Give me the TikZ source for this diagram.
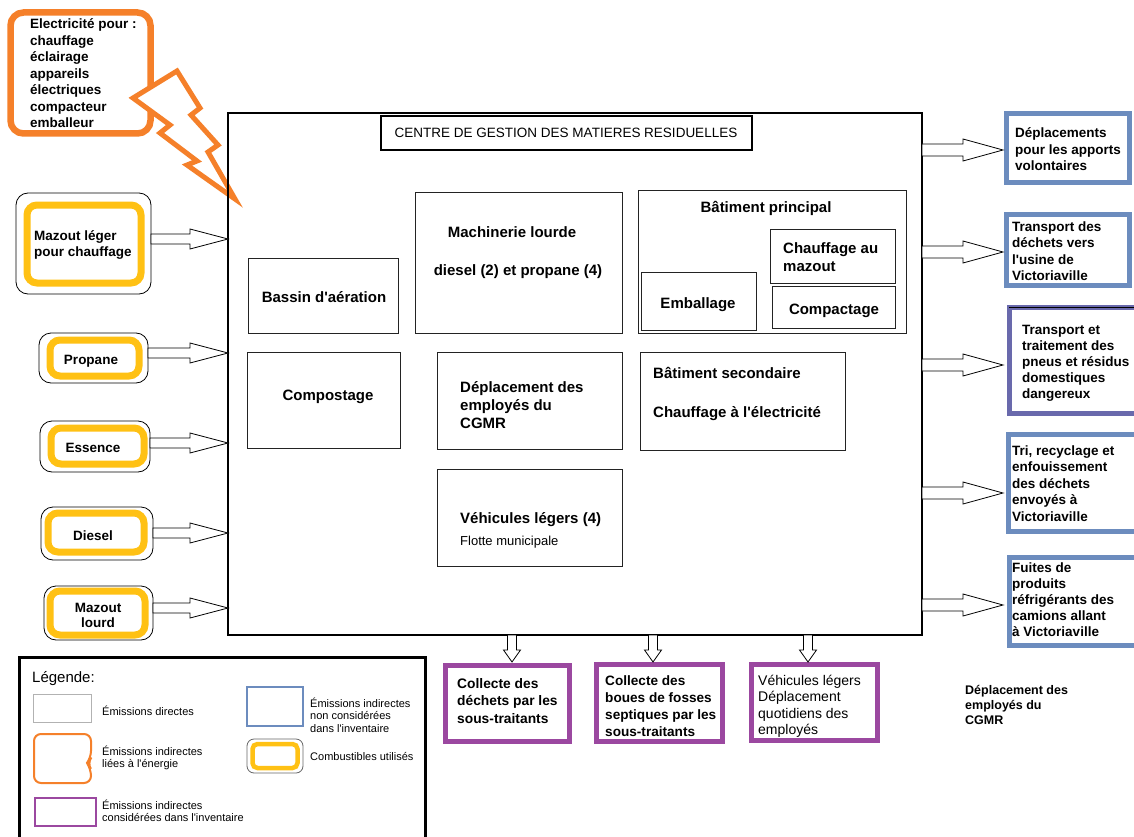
\documentclass[tikz,border=0pt]{standalone}
\usepackage{fontspec}
\setmainfont{Liberation Sans}
\usetikzlibrary{calc}
\definecolor{orng}{RGB}{245,128,42}
\definecolor{yel}{RGB}{255,193,20}
\definecolor{blu}{RGB}{108,140,190}
\definecolor{purp}{RGB}{155,72,160}
\definecolor{navp}{RGB}{105,105,172}
\definecolor{dk}{RGB}{35,35,35}
\newcommand\q{\textquotesingle}
\newcommand\mybox[6]{\node[#6,anchor=north west,inner sep=0pt,outer sep=0pt,minimum width={(#4-#2)*1pt},minimum height={(#5-#3)*1pt}] (#1) at (#2,#3) {};}
% horizontal hollow arrow: from, to, head length, shaft half, head half
\newcommand\myharr[5]{\draw[barrow] let \p1=(#1), \p2=(#2) in (\x1,\y1+#4pt) -- (\x2-#3pt,\y1+#4pt) -- (\x2-#3pt,\y1+#5pt) -- (\x2,\y1) -- (\x2-#3pt,\y1-#5pt) -- (\x2-#3pt,\y1-#4pt) -- (\x1,\y1-#4pt) -- cycle;}
% vertical (downward) hollow arrow
\newcommand\myvarr[2]{\draw[barrow] let \p1=(#1), \p2=(#2) in (\x1-4.5pt,\y1) -- (\x1-4.5pt,\y2+12pt) -- (\x1-8.5pt,\y2+12pt) -- (\x1,\y2) -- (\x1+8.5pt,\y2+12pt) -- (\x1+4.5pt,\y2+12pt) -- (\x1+4.5pt,\y1) -- cycle;}
\tikzset{
  thinbox/.style={draw=dk,line width=1pt},
  mainbox/.style={draw=black,line width=1.1pt},
  titlebox/.style={draw=black,line width=2.6pt},
  fuelout/.style={draw=black,line width=0.8pt,rounded corners=12pt},
  fuelin/.style={draw=yel,line width=7pt,rounded corners=10pt},
  bluebox/.style={draw=blu,line width=5pt},
  navbox/.style={draw=navp,line width=5pt},
  purpbox/.style={draw=purp,line width=5pt},
  calloutbox/.style={draw=orng,line width=6.5pt,rounded corners=13pt},
  barrow/.style={draw=black,fill=white,line width=0.8pt},
  tb/.style={font=\bfseries\fontsize{15}{18}\selectfont,inner sep=0pt},
  tt/.style={font=\fontsize{13.5}{16}\selectfont,inner sep=0pt},
  fb/.style={font=\bfseries\fontsize{13.5}{16.5}\selectfont,inner sep=0pt},
  rb/.style={font=\bfseries\fontsize{13.5}{16.5}\selectfont,inner sep=0pt,align=left,anchor=base west},
  pb/.style={font=\bfseries\fontsize{13.8}{17.5}\selectfont,inner sep=0pt,align=left,anchor=base west},
  pr/.style={font=\fontsize{14}{16.5}\selectfont,inner sep=0pt,align=left,anchor=base west},
  lg/.style={font=\fontsize{11}{12.8}\selectfont,inner sep=0pt,align=left,anchor=base west},
}
\begin{document}
\begin{tikzpicture}[x=1pt,y=-1pt]
\useasboundingbox (0,0) rectangle (1134,837);
\fill[white] (0,0) rectangle (1134,837);

% ---------- callout (electricity) ----------
\mybox{call}{10.5}{12.5}{150.5}{133.5}{calloutbox}
\draw[orng,line width=5pt,fill=white] (133,98) -- (177,71) -- (200,108) -- (191,115) -- (218,145) -- (208,152) -- (235,199) -- (187,165) -- (197,161) -- (160,133) -- (170,125) -- cycle;
\node[fb,align=left,anchor=base west] (calltxt) at (30,128) {Electricité pour :\\chauffage\\éclairage\\appareils\\électriques\\compacteur\\emballeur};

% ---------- main box ----------
\mybox{main}{228}{113}{922}{635}{mainbox}
\mybox{title}{381}{116}{752}{150}{titlebox}
\node[tt,anchor=base] (titletxt) at (566,138) {CENTRE DE GESTION DES MATIERES RESIDUELLES};

\mybox{bassin}{248}{258}{398}{333}{thinbox}
\node[tb,anchor=base] (bassintxt) at (324,302) {Bassin d\q aération};

\mybox{mach}{415}{192}{622}{333}{thinbox}
\node[tb,anchor=base] (mach1) at (512,237) {Machinerie lourde};
\node[tb,anchor=base] (mach2) at (518,275) {diesel (2) et propane (4)};

\mybox{batp}{638}{190}{906}{333}{thinbox}
\node[tb,anchor=base] (batptxt) at (766,212) {Bâtiment principal};
\mybox{emb}{641}{272}{756}{330}{thinbox}
\node[tb,anchor=base] (embtxt) at (698,308) {Emballage};
\mybox{chm}{770}{229}{895}{283}{thinbox}
\node[tb,anchor=base west,align=left] (chmtxt) at (783,271) {Chauffage au\\mazout};
\mybox{comp}{772}{286}{895}{328}{thinbox}
\node[tb,anchor=base] (comptxt) at (834,314) {Compactage};

\mybox{compost}{247}{352}{400}{448}{thinbox}
\node[tb,anchor=base] (composttxt) at (328,400) {Compostage};

\mybox{depl}{437}{352}{622}{449}{thinbox}
\node[tb,anchor=base west,align=left] (depltxt) at (460,428) {Déplacement des\\employés du\\CGMR};

\mybox{bats}{640}{352}{845}{450}{thinbox}
\node[tb,anchor=base west] (bats1) at (653,378) {Bâtiment secondaire};
\node[tb,anchor=base west] (bats2) at (653,417) {Chauffage à l\q électricité};

\mybox{vehl}{437}{469}{622}{566}{thinbox}
\node[tb,anchor=base west] (vehl1) at (460,523) {Véhicules légers (4)};
\node[font=\fontsize{13}{15}\selectfont,inner sep=0pt,anchor=base west] (vehl2) at (460,545) {Flotte municipale};

% ---------- fuels (left) ----------
\mybox{f1o}{16}{193}{151}{294}{fuelout}
\mybox{f1}{27}{205}{141}{283}{fuelin}
\node[fb,align=left,anchor=base west] (f1t) at (34,256.5) {Mazout léger\\pour chauffage};
\mybox{f2o}{39}{333}{148}{383}{fuelout}
\mybox{f2}{50}{340}{139}{376}{fuelin}
\node[fb,anchor=base] (f2t) at (91,364) {Propane};
\mybox{f3o}{40}{421}{150}{472}{fuelout}
\mybox{f3}{51}{428}{144}{464}{fuelin}
\node[fb,anchor=base] (f3t) at (93,452) {Essence};
\mybox{f4o}{41}{507}{153}{560}{fuelout}
\mybox{f4}{48}{513}{144}{552}{fuelin}
\node[fb,anchor=base] (f4t) at (93,540) {Diesel};
\mybox{f5o}{44}{586}{153}{640}{fuelout}
\mybox{f5}{50}{591}{145}{635}{fuelin}
\node[font=\bfseries\fontsize{13.5}{15}\selectfont,inner sep=0pt,align=center,anchor=base] (f5t) at (98,627) {Mazout\\lourd};

\coordinate (lt1) at (228,239);
\coordinate (lt2) at (228,353);
\coordinate (lt3) at (228,443);
\coordinate (lt4) at (228,533);
\coordinate (lt5) at (228,608);
\myharr{f1o.east |- lt1}{lt1}{38}{5}{10}
\myharr{f2o.east |- lt2}{lt2}{38}{5}{10}
\myharr{f3o.east |- lt3}{lt3}{38}{5}{10}
\myharr{f4o.east |- lt4}{lt4}{38}{5}{10}
\myharr{f5o.east |- lt5}{lt5}{38}{5}{10}

% ---------- right boxes ----------
\mybox{r1}{1006}{114}{1129}{183}{bluebox}
\node[rb] (r1t) at (1015,171) {Déplacements\\pour les apports\\volontaires};
\mybox{r2}{1006}{214}{1129}{285}{bluebox}
\node[rb] (r2t) at (1012,280.5) {Transport des\\déchets vers\\l\q usine de\\Victoriaville};
\mybox{r3}{1009}{307}{1145}{413}{navbox}
\draw[black,line width=1pt] (r3.north west) -- (r3.north east);
\node[rb,font=\bfseries\fontsize{13.5}{16}\selectfont] (r3t) at (1022,398) {Transport et\\traitement des\\pneus et résidus\\domestiques\\dangereux};
\mybox{r4}{1008}{434}{1145}{531}{bluebox}
\node[rb] (r4t) at (1012,521) {Tri, recyclage et\\enfouissement\\des déchets\\envoyés à\\Victoriaville};
\mybox{r5}{1009}{557}{1145}{645}{bluebox}
\node[rb,font=\bfseries\fontsize{13.5}{16}\selectfont] (r5t) at (1012,636) {Fuites de\\produits\\réfrigérants des\\camions allant\\à Victoriaville};

\coordinate (rt1) at (1003,150);
\coordinate (rt2) at (1003,252);
\coordinate (rt3) at (1003,365);
\coordinate (rt4) at (1003,493);
\coordinate (rt5) at (1003,605);
\myharr{main.east |- rt1}{rt1}{40}{6}{11}
\myharr{main.east |- rt2}{rt2}{40}{6}{11}
\myharr{main.east |- rt3}{rt3}{40}{6}{11}
\myharr{main.east |- rt4}{rt4}{40}{6}{11}
\myharr{main.east |- rt5}{rt5}{40}{6}{11}

% ---------- bottom boxes ----------
\mybox{b1}{445.5}{665.5}{569.5}{741.5}{purpbox}
\node[pb] (b1t) at (457,723) {Collecte des\\déchets par les\\sous-traitants};
\mybox{b2}{596.5}{664.5}{722.5}{741.5}{purpbox}
\node[pb,font=\bfseries\fontsize{13.6}{17}\selectfont] (b2t) at (605,736) {Collecte des\\boues de fosses\\septiques par les\\sous-traitants};
\mybox{b3}{751.5}{664.5}{877.5}{740.5}{purpbox}
\node[pr] (b3t) at (758,734.5) {Véhicules légers\\Déplacement\\quotidiens des\\employés};

\coordinate (dt1) at (512,662);
\coordinate (dt2) at (653,662);
\coordinate (dt3) at (808,662);
\myvarr{main.south -| dt1}{dt1}
\myvarr{main.south -| dt2}{dt2}
\myvarr{main.south -| dt3}{dt3}

\node[font=\bfseries\fontsize{12.5}{15}\selectfont,inner sep=0pt,align=left,anchor=base west] (extra) at (965,724) {Déplacement des\\employés du\\CGMR};

% ---------- legend ----------
\mybox{leg}{19.5}{657.5}{425.5}{850}{draw=black,line width=3pt}
\node[font=\fontsize{15}{18}\selectfont,inner sep=0pt,anchor=base west] (legt) at (32,682) {Légende:};
\mybox{lg1}{33}{694}{91}{722}{draw=black!30,line width=1pt}
\node[lg] (lg1t) at (102,715) {Émissions directes};
\draw[orng,line width=2pt,rounded corners=7pt] (34,734) -- (91,734) -- (91,758) -- (87,763) -- (91,769) -- (91,783) -- (34,783) -- cycle;
\node[lg] (lg2t) at (102,767.8) {Émissions indirectes\\liées à l\q énergie};
\mybox{lg3}{35}{798}{96}{826}{draw=purp,line width=2pt}
\node[lg] (lg3t) at (102,821.8) {Émissions indirectes\\considérées dans l\q inventaire};
\mybox{lg4}{247}{687}{303}{726}{draw=blu,line width=1.3pt}
\node[lg] (lg4t) at (310,732.6) {Émissions indirectes\\non considérées\\dans l\q inventaire};
\mybox{lg5o}{247}{739}{303}{773}{draw=black!60,line width=0.8pt,rounded corners=7pt}
\mybox{lg5}{252.5}{744}{297.5}{768}{draw=yel,line width=4.5pt,rounded corners=5pt}
\node[lg] (lg5t) at (310,760) {Combustibles utilisés};
\end{tikzpicture}
\end{document}
